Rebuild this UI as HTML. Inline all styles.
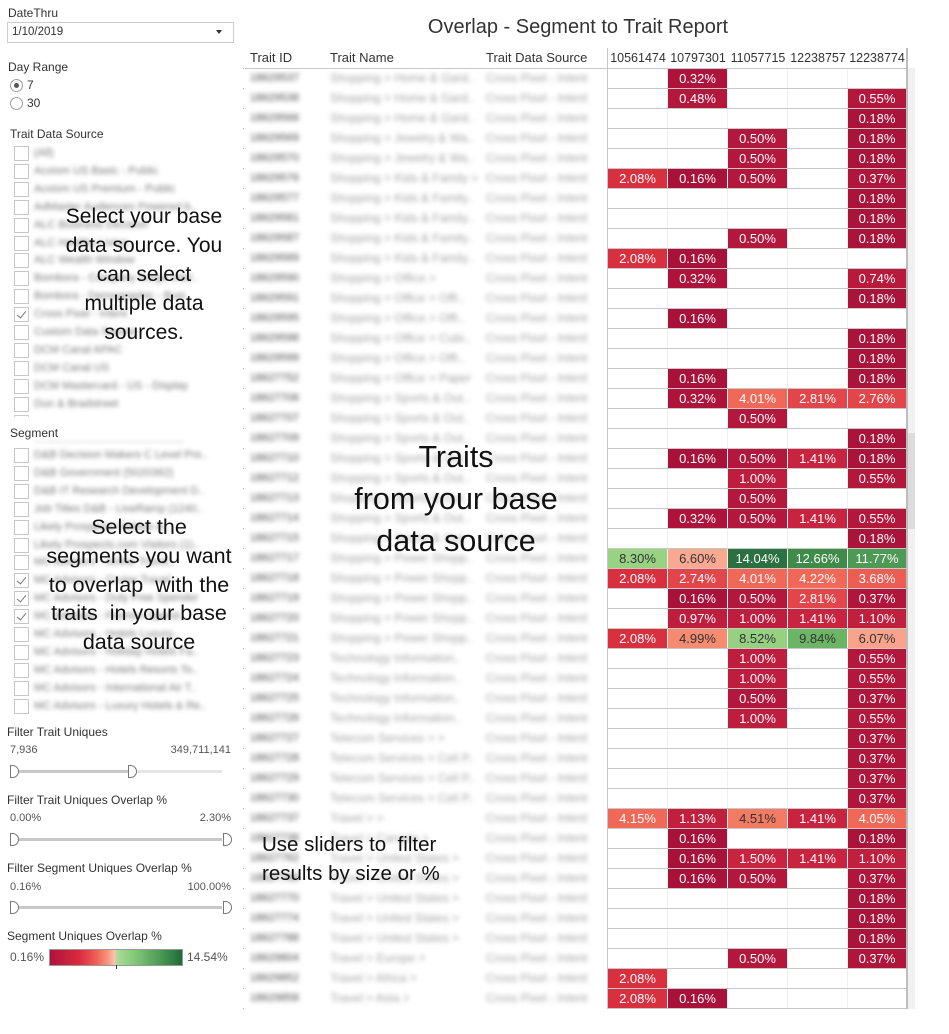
<!DOCTYPE html>
<html><head><meta charset="utf-8">
<style>
*{margin:0;padding:0;box-sizing:border-box}
body{width:949px;height:1034px;background:#fff;position:relative;overflow:hidden;font-family:"Liberation Sans",Arial,sans-serif;color:#333}
.a{position:absolute}
.lbl{position:absolute;font-size:12px;color:#333;white-space:nowrap;line-height:14px}
.cb{position:absolute;left:14px;width:15px;height:15px;border:1px solid #c6c6c6;background:#fff}
.cb.on::after{content:"";position:absolute;left:4px;top:1px;width:4px;height:8px;border:solid #777;border-width:0 1px 1px 0;transform:rotate(40deg)}
.bl{position:absolute;left:34px;font-size:11px;color:#7a7a7a;filter:blur(2.1px);white-space:nowrap;line-height:15px}
.rad{position:absolute;left:10px;width:13px;height:13px;border:1px solid #a0a0a0;border-radius:50%;background:#fff}
.rad.on::after{content:"";position:absolute;left:3px;top:3px;width:5px;height:5px;border-radius:50%;background:#555}
.trk{position:absolute;left:15px;width:207px;height:3px;background:#c8c8c8}
.hd{position:absolute;width:9px;height:13px;border:1px solid #777;border-radius:0 7px 7px 0;background:#fff}
.sv{position:absolute;font-size:11px;color:#555;line-height:13px;white-space:nowrap}
.ov{position:absolute;color:#111;text-align:center;white-space:pre}
.th{position:absolute;top:51px;font-size:13px;line-height:14px;color:#333;white-space:nowrap}
.nh{position:absolute;top:51px;width:60px;text-align:center;font-size:12.5px;line-height:14px;color:#333}
.blur{position:absolute;left:245px;top:69px;width:360px;height:940px;filter:blur(2.4px)}
.tr{position:absolute;left:0;width:360px;height:19px;line-height:19px;font-size:12px;white-space:nowrap}
.tr b{position:absolute;left:5px;font-weight:normal;color:#4a4a4a;font-size:11px}
.tr s{position:absolute;left:85px;text-decoration:none;color:#a4a4a4}
.tr u{position:absolute;left:241px;text-decoration:none;color:#a4a4a4}
.grid{position:absolute;left:608px;top:68px;width:298px;height:941px;
background:repeating-linear-gradient(to bottom,#c8c8c8 0 1px,transparent 1px 20px),
linear-gradient(to right,transparent 59px,#efefef 59px 60px,transparent 60px 119px,#efefef 119px 120px,transparent 120px 179px,#efefef 179px 180px,transparent 180px 239px,#efefef 239px 240px,transparent 240px)}
.nr{position:absolute;left:608px;width:299px;height:19px}
.nr i{position:absolute;top:0;width:59px;height:19px;line-height:19px;text-align:center;font-style:normal;font-size:13px;color:#fff}
.c0{left:0}.c1{left:60px}.c2{left:120px}.c3{left:180px}.c4{left:240px;width:58px!important}
.nr i.dk{color:#333}
.v16{background:#a8123a}.v18{background:#aa133a}.v32{background:#ae143b}.v37{background:#b0153b}
.v50{background:#b4173c}.v74{background:#b91a3c}.v100{background:#be1d3d}.v110{background:#c11f3e}
.v141{background:#c9243f}.v208{background:#d8303f}.v27{background:#e2454a}.v368{background:#ec5d53}
.v40{background:#f06858}.v451{background:#f37a63}.v499{background:#f68b70}.v607{background:#f9a38c}
.v660{background:#f9a891}.v830{background:#98d383}.v852{background:#95d181}.v984{background:#6db566}
.v1177{background:#4e9a55}.v1266{background:#3e8b4a}.v1404{background:#2a7040}
</style></head><body>

<!-- Left panel -->
<div class="lbl" style="left:8px;top:6px">DateThru</div>
<div class="a" style="left:7px;top:22px;width:227px;height:21px;border:1px solid #ccc;background:#fff"></div>
<div class="lbl" style="left:12px;top:25px;font-size:11.5px">1/10/2019</div>
<div class="a" style="left:216px;top:30px;width:0;height:0;border-left:3px solid transparent;border-right:3px solid transparent;border-top:4px solid #333"></div>

<div class="lbl" style="left:8px;top:60px">Day Range</div>
<div class="rad on" style="top:79px"></div>
<div class="lbl" style="left:27px;top:78px">7</div>
<div class="rad" style="top:97px"></div>
<div class="lbl" style="left:27px;top:96px">30</div>

<div class="lbl" style="left:10px;top:127px">Trait Data Source</div>
<div class="cb" style="top:146px"></div><div class="bl" style="top:146px">(All)</div>
<div class="cb" style="top:164px"></div><div class="bl" style="top:164px">Acxiom US Basic - Public</div>
<div class="cb" style="top:182px"></div><div class="bl" style="top:182px">Acxiom US Premium - Public</div>
<div class="cb" style="top:200px"></div><div class="bl" style="top:200px">AdMaster Audiences Powered b..</div>
<div class="cb" style="top:218px"></div><div class="bl" style="top:218px">ALC Business Decision</div>
<div class="cb" style="top:236px"></div><div class="bl" style="top:236px">ALC Healthy Living</div>
<div class="cb" style="top:253px"></div><div class="bl" style="top:253px">ALC Wealth Window</div>
<div class="cb" style="top:271px"></div><div class="bl" style="top:271px">Bombora - Company Surge Intel..</div>
<div class="cb" style="top:289px"></div><div class="bl" style="top:289px">Bombora - Demographic - Busi..</div>
<div class="cb on" style="top:307px"></div><div class="bl" style="top:307px">Cross Pixel - Intent</div>
<div class="cb" style="top:325px"></div><div class="bl" style="top:325px">Custom Data Source</div>
<div class="cb" style="top:343px"></div><div class="bl" style="top:343px">DCM Canal APAC</div>
<div class="cb" style="top:361px"></div><div class="bl" style="top:361px">DCM Canal US</div>
<div class="cb" style="top:379px"></div><div class="bl" style="top:379px">DCM Mastercard - US - Display</div>
<div class="cb" style="top:397px"></div><div class="bl" style="top:397px">Dun &amp; Bradstreet</div>
<div class="a" style="left:14px;top:415px;width:15px;height:2px;border:1px solid #ccc;border-bottom:none"></div>

<div class="lbl" style="left:10px;top:426px">Segment</div>
<div class="a" style="left:34px;top:441px;width:150px;height:2px;background:#ececec;filter:blur(1.5px)"></div>
<div class="cb" style="top:448px"></div><div class="bl" style="top:448px">D&amp;B Decision Makers C Level Pre..</div>
<div class="cb" style="top:466px"></div><div class="bl" style="top:466px">D&amp;B Government (5020382)</div>
<div class="cb" style="top:484px"></div><div class="bl" style="top:484px">D&amp;B IT Research Development D..</div>
<div class="cb" style="top:502px"></div><div class="bl" style="top:502px">Job Titles D&amp;B - LiveRamp (1240..</div>
<div class="cb" style="top:520px"></div><div class="bl" style="top:520px">Likely Prospects Visitors in..</div>
<div class="cb" style="top:538px"></div><div class="bl" style="top:538px">Likely Prospects.com Visitors (1)..</div>
<div class="cb" style="top:555px"></div><div class="bl" style="top:555px">MC Advisors - Airline Travel..</div>
<div class="cb on" style="top:573px"></div><div class="bl" style="top:573px">MC Advisors - Cruise Travel..</div>
<div class="cb on" style="top:591px"></div><div class="bl" style="top:591px">MC Advisors - Duty Free Spender</div>
<div class="cb on" style="top:609px"></div><div class="bl" style="top:609px">MC Advisors - Fashion Spend..</div>
<div class="cb" style="top:627px"></div><div class="bl" style="top:627px">MC Advisors - Hotels Luxury..</div>
<div class="cb" style="top:645px"></div><div class="bl" style="top:645px">MC Advisors - Holiday Hotels Fa..</div>
<div class="cb" style="top:663px"></div><div class="bl" style="top:663px">MC Advisors - Hotels Resorts To..</div>
<div class="cb" style="top:681px"></div><div class="bl" style="top:681px">MC Advisors - International Air T..</div>
<div class="cb" style="top:699px"></div><div class="bl" style="top:699px">MC Advisors - Luxury Hotels &amp; Re..</div>

<!-- Sliders -->
<div class="lbl" style="left:7px;top:725px">Filter Trait Uniques</div>
<div class="sv" style="left:10px;top:744px">7,936</div>
<div class="sv" style="left:130px;top:744px;width:101px;text-align:right">349,711,141</div>
<div class="trk" style="top:770px"></div>
<div class="a" style="left:132px;top:770px;width:90px;height:3px;background:#e6e6e6"></div>
<div class="hd" style="left:10px;top:765px"></div>
<div class="hd" style="left:128px;top:765px"></div>

<div class="lbl" style="left:7px;top:793px">Filter Trait Uniques Overlap %</div>
<div class="sv" style="left:10px;top:812px">0.00%</div>
<div class="sv" style="left:130px;top:812px;width:101px;text-align:right">2.30%</div>
<div class="trk" style="top:838px"></div>
<div class="hd" style="left:10px;top:833px"></div>
<div class="hd" style="left:223px;top:833px"></div>

<div class="lbl" style="left:7px;top:861px">Filter Segment Uniques Overlap %</div>
<div class="sv" style="left:10px;top:881px">0.16%</div>
<div class="sv" style="left:130px;top:881px;width:101px;text-align:right">100.00%</div>
<div class="trk" style="top:906px"></div>
<div class="hd" style="left:10px;top:901px"></div>
<div class="hd" style="left:223px;top:901px"></div>

<div class="lbl" style="left:7px;top:929px">Segment Uniques Overlap %</div>
<div class="lbl" style="left:10px;top:950px;color:#555">0.16%</div>
<div class="a" style="left:49px;top:949px;width:134px;height:17px;border:1px solid #999;background:linear-gradient(to right,#b0123b 0%,#d92a3f 22%,#ee5f55 35%,#f7987f 44%,#fac4b0 49%,#a9dc97 51%,#80c677 65%,#479653 85%,#1f6a3a 100%)"></div>
<div class="a" style="left:116px;top:965px;width:1px;height:4px;background:#333"></div>
<div class="lbl" style="left:187px;top:950px;color:#555">14.54%</div>

<!-- Title & headers -->
<div class="a" style="left:378px;top:15px;width:400px;text-align:center;font-size:20px;line-height:24px;color:#333">Overlap - Segment to Trait Report</div>
<div class="th" style="left:250px">Trait ID</div>
<div class="th" style="left:330px">Trait Name</div>
<div class="th" style="left:486px">Trait Data Source</div>
<div class="nh" style="left:608px">10561474</div>
<div class="nh" style="left:668px">10797301</div>
<div class="nh" style="left:728px">11057715</div>
<div class="nh" style="left:788px">12238757</div>
<div class="nh" style="left:847px">12238774</div>
<div class="a" style="left:245px;top:68px;width:362px;height:1px;background:#c8c8c8"></div>
<div class="a" style="left:243px;top:68px;width:1px;height:941px;background:repeating-linear-gradient(to bottom,#b0b0b0 0 1px,transparent 1px 20px)"></div>

<!-- blurred trait rows -->
<div class="blur">
<div class="tr" style="top:0px"><b>18629537</b><s>Shopping &gt; Home &amp; Gard..</s><u>Cross Pixel - Intent</u></div>
<div class="tr" style="top:20px"><b>18629538</b><s>Shopping &gt; Home &amp; Gard..</s><u>Cross Pixel - Intent</u></div>
<div class="tr" style="top:40px"><b>18629566</b><s>Shopping &gt; Home &amp; Gard..</s><u>Cross Pixel - Intent</u></div>
<div class="tr" style="top:60px"><b>18629569</b><s>Shopping &gt; Jewelry &amp; Wa..</s><u>Cross Pixel - Intent</u></div>
<div class="tr" style="top:80px"><b>18629570</b><s>Shopping &gt; Jewelry &amp; Wa..</s><u>Cross Pixel - Intent</u></div>
<div class="tr" style="top:100px"><b>18629576</b><s>Shopping &gt; Kids &amp; Family &gt;</s><u>Cross Pixel - Intent</u></div>
<div class="tr" style="top:120px"><b>18629577</b><s>Shopping &gt; Kids &amp; Family..</s><u>Cross Pixel - Intent</u></div>
<div class="tr" style="top:140px"><b>18629581</b><s>Shopping &gt; Kids &amp; Family..</s><u>Cross Pixel - Intent</u></div>
<div class="tr" style="top:160px"><b>18629587</b><s>Shopping &gt; Kids &amp; Family..</s><u>Cross Pixel - Intent</u></div>
<div class="tr" style="top:180px"><b>18629589</b><s>Shopping &gt; Kids &amp; Family..</s><u>Cross Pixel - Intent</u></div>
<div class="tr" style="top:200px"><b>18629590</b><s>Shopping &gt; Office &gt;</s><u>Cross Pixel - Intent</u></div>
<div class="tr" style="top:220px"><b>18629591</b><s>Shopping &gt; Office &gt; Offi..</s><u>Cross Pixel - Intent</u></div>
<div class="tr" style="top:240px"><b>18629595</b><s>Shopping &gt; Office &gt; Offi..</s><u>Cross Pixel - Intent</u></div>
<div class="tr" style="top:260px"><b>18629598</b><s>Shopping &gt; Office &gt; Cubi..</s><u>Cross Pixel - Intent</u></div>
<div class="tr" style="top:280px"><b>18629599</b><s>Shopping &gt; Office &gt; Offi..</s><u>Cross Pixel - Intent</u></div>
<div class="tr" style="top:300px"><b>18627752</b><s>Shopping &gt; Office &gt; Paper</s><u>Cross Pixel - Intent</u></div>
<div class="tr" style="top:320px"><b>18627706</b><s>Shopping &gt; Sports &amp; Out..</s><u>Cross Pixel - Intent</u></div>
<div class="tr" style="top:340px"><b>18627707</b><s>Shopping &gt; Sports &amp; Out..</s><u>Cross Pixel - Intent</u></div>
<div class="tr" style="top:360px"><b>18627709</b><s>Shopping &gt; Sports &amp; Out..</s><u>Cross Pixel - Intent</u></div>
<div class="tr" style="top:380px"><b>18627710</b><s>Shopping &gt; Sports &amp; Out..</s><u>Cross Pixel - Intent</u></div>
<div class="tr" style="top:400px"><b>18627712</b><s>Shopping &gt; Sports &amp; Out..</s><u>Cross Pixel - Intent</u></div>
<div class="tr" style="top:420px"><b>18627713</b><s>Shopping &gt; Sports &amp; Out..</s><u>Cross Pixel - Intent</u></div>
<div class="tr" style="top:440px"><b>18627714</b><s>Shopping &gt; Sports &amp; Out..</s><u>Cross Pixel - Intent</u></div>
<div class="tr" style="top:460px"><b>18627715</b><s>Shopping &gt; Sports &amp; Out..</s><u>Cross Pixel - Intent</u></div>
<div class="tr" style="top:480px"><b>18627717</b><s>Shopping &gt; Power Shopp..</s><u>Cross Pixel - Intent</u></div>
<div class="tr" style="top:500px"><b>18627718</b><s>Shopping &gt; Power Shopp..</s><u>Cross Pixel - Intent</u></div>
<div class="tr" style="top:520px"><b>18627719</b><s>Shopping &gt; Power Shopp..</s><u>Cross Pixel - Intent</u></div>
<div class="tr" style="top:540px"><b>18627720</b><s>Shopping &gt; Power Shopp..</s><u>Cross Pixel - Intent</u></div>
<div class="tr" style="top:560px"><b>18627721</b><s>Shopping &gt; Power Shopp..</s><u>Cross Pixel - Intent</u></div>
<div class="tr" style="top:580px"><b>18627723</b><s>Technology Information..</s><u>Cross Pixel - Intent</u></div>
<div class="tr" style="top:600px"><b>18627724</b><s>Technology Information..</s><u>Cross Pixel - Intent</u></div>
<div class="tr" style="top:620px"><b>18627725</b><s>Technology Information..</s><u>Cross Pixel - Intent</u></div>
<div class="tr" style="top:640px"><b>18627726</b><s>Technology Information..</s><u>Cross Pixel - Intent</u></div>
<div class="tr" style="top:660px"><b>18627727</b><s>Telecom Services &gt; &gt;</s><u>Cross Pixel - Intent</u></div>
<div class="tr" style="top:680px"><b>18627728</b><s>Telecom Services &gt; Cell P..</s><u>Cross Pixel - Intent</u></div>
<div class="tr" style="top:700px"><b>18627729</b><s>Telecom Services &gt; Cell P..</s><u>Cross Pixel - Intent</u></div>
<div class="tr" style="top:720px"><b>18627730</b><s>Telecom Services &gt; Cell P..</s><u>Cross Pixel - Intent</u></div>
<div class="tr" style="top:740px"><b>18627737</b><s>Travel &gt; &gt;</s><u>Cross Pixel - Intent</u></div>
<div class="tr" style="top:760px"><b>18627738</b><s>Travel &gt; Canada &gt;</s><u>Cross Pixel - Intent</u></div>
<div class="tr" style="top:780px"><b>18627762</b><s>Travel &gt; United States &gt;</s><u>Cross Pixel - Intent</u></div>
<div class="tr" style="top:800px"><b>18627766</b><s>Travel &gt; United States &gt;</s><u>Cross Pixel - Intent</u></div>
<div class="tr" style="top:820px"><b>18627770</b><s>Travel &gt; United States &gt;</s><u>Cross Pixel - Intent</u></div>
<div class="tr" style="top:840px"><b>18627774</b><s>Travel &gt; United States &gt;</s><u>Cross Pixel - Intent</u></div>
<div class="tr" style="top:860px"><b>18627788</b><s>Travel &gt; United States &gt;</s><u>Cross Pixel - Intent</u></div>
<div class="tr" style="top:880px"><b>18629804</b><s>Travel &gt; Europe &gt;</s><u>Cross Pixel - Intent</u></div>
<div class="tr" style="top:900px"><b>18629852</b><s>Travel &gt; Africa &gt;</s><u>Cross Pixel - Intent</u></div>
<div class="tr" style="top:920px"><b>18629858</b><s>Travel &gt; Asia &gt;</s><u>Cross Pixel - Intent</u></div>
</div>

<!-- numeric grid -->
<div class="grid"></div>
<div class="a" style="left:607px;top:48px;width:1px;height:961px;background:#c8c8c8"></div>
<div class="a" style="left:906px;top:48px;width:2px;height:961px;background:#bdbdbd"></div>
<div class="a" style="left:908px;top:68px;width:7px;height:941px;background:#f1f1f1"></div>
<div class="a" style="left:908px;top:433px;width:7px;height:96px;background:#dcdcdc"></div>

<div class="nr" style="top:69px"><i class="c1 v32">0.32%</i></div>
<div class="nr" style="top:89px"><i class="c1 v50">0.48%</i><i class="c4 v50">0.55%</i></div>
<div class="nr" style="top:109px"><i class="c4 v18">0.18%</i></div>
<div class="nr" style="top:129px"><i class="c2 v50">0.50%</i><i class="c4 v18">0.18%</i></div>
<div class="nr" style="top:149px"><i class="c2 v50">0.50%</i><i class="c4 v18">0.18%</i></div>
<div class="nr" style="top:169px"><i class="c0 v208">2.08%</i><i class="c1 v16">0.16%</i><i class="c2 v50">0.50%</i><i class="c4 v37">0.37%</i></div>
<div class="nr" style="top:189px"><i class="c4 v18">0.18%</i></div>
<div class="nr" style="top:209px"><i class="c4 v18">0.18%</i></div>
<div class="nr" style="top:229px"><i class="c2 v50">0.50%</i><i class="c4 v18">0.18%</i></div>
<div class="nr" style="top:249px"><i class="c0 v208">2.08%</i><i class="c1 v16">0.16%</i></div>
<div class="nr" style="top:269px"><i class="c1 v32">0.32%</i><i class="c4 v74">0.74%</i></div>
<div class="nr" style="top:289px"><i class="c4 v18">0.18%</i></div>
<div class="nr" style="top:309px"><i class="c1 v16">0.16%</i></div>
<div class="nr" style="top:329px"><i class="c4 v18">0.18%</i></div>
<div class="nr" style="top:349px"><i class="c4 v18">0.18%</i></div>
<div class="nr" style="top:369px"><i class="c1 v16">0.16%</i><i class="c4 v18">0.18%</i></div>
<div class="nr" style="top:389px"><i class="c1 v32">0.32%</i><i class="c2 v40">4.01%</i><i class="c3 v27">2.81%</i><i class="c4 v27">2.76%</i></div>
<div class="nr" style="top:409px"><i class="c2 v50">0.50%</i></div>
<div class="nr" style="top:429px"><i class="c4 v18">0.18%</i></div>
<div class="nr" style="top:449px"><i class="c1 v16">0.16%</i><i class="c2 v50">0.50%</i><i class="c3 v141">1.41%</i><i class="c4 v18">0.18%</i></div>
<div class="nr" style="top:469px"><i class="c2 v100">1.00%</i><i class="c4 v50">0.55%</i></div>
<div class="nr" style="top:489px"><i class="c2 v50">0.50%</i></div>
<div class="nr" style="top:509px"><i class="c1 v32">0.32%</i><i class="c2 v50">0.50%</i><i class="c3 v141">1.41%</i><i class="c4 v50">0.55%</i></div>
<div class="nr" style="top:529px"><i class="c4 v18">0.18%</i></div>
<div class="nr" style="top:549px"><i class="c0 v830 dk">8.30%</i><i class="c1 v660 dk">6.60%</i><i class="c2 v1404">14.04%</i><i class="c3 v1266">12.66%</i><i class="c4 v1177">11.77%</i></div>
<div class="nr" style="top:569px"><i class="c0 v208">2.08%</i><i class="c1 v27">2.74%</i><i class="c2 v40">4.01%</i><i class="c3 v40">4.22%</i><i class="c4 v368">3.68%</i></div>
<div class="nr" style="top:589px"><i class="c1 v16">0.16%</i><i class="c2 v50">0.50%</i><i class="c3 v27">2.81%</i><i class="c4 v37">0.37%</i></div>
<div class="nr" style="top:609px"><i class="c1 v100">0.97%</i><i class="c2 v100">1.00%</i><i class="c3 v141">1.41%</i><i class="c4 v110">1.10%</i></div>
<div class="nr" style="top:629px"><i class="c0 v208">2.08%</i><i class="c1 v499 dk">4.99%</i><i class="c2 v852 dk">8.52%</i><i class="c3 v984 dk">9.84%</i><i class="c4 v607 dk">6.07%</i></div>
<div class="nr" style="top:649px"><i class="c2 v100">1.00%</i><i class="c4 v50">0.55%</i></div>
<div class="nr" style="top:669px"><i class="c2 v100">1.00%</i><i class="c4 v50">0.55%</i></div>
<div class="nr" style="top:689px"><i class="c2 v50">0.50%</i><i class="c4 v37">0.37%</i></div>
<div class="nr" style="top:709px"><i class="c2 v100">1.00%</i><i class="c4 v50">0.55%</i></div>
<div class="nr" style="top:729px"><i class="c4 v37">0.37%</i></div>
<div class="nr" style="top:749px"><i class="c4 v37">0.37%</i></div>
<div class="nr" style="top:769px"><i class="c4 v37">0.37%</i></div>
<div class="nr" style="top:789px"><i class="c4 v37">0.37%</i></div>
<div class="nr" style="top:809px"><i class="c0 v40">4.15%</i><i class="c1 v110">1.13%</i><i class="c2 v451 dk">4.51%</i><i class="c3 v141">1.41%</i><i class="c4 v40">4.05%</i></div>
<div class="nr" style="top:829px"><i class="c1 v16">0.16%</i><i class="c4 v18">0.18%</i></div>
<div class="nr" style="top:849px"><i class="c1 v16">0.16%</i><i class="c2 v141">1.50%</i><i class="c3 v141">1.41%</i><i class="c4 v110">1.10%</i></div>
<div class="nr" style="top:869px"><i class="c1 v16">0.16%</i><i class="c2 v50">0.50%</i><i class="c4 v37">0.37%</i></div>
<div class="nr" style="top:889px"><i class="c4 v18">0.18%</i></div>
<div class="nr" style="top:909px"><i class="c4 v18">0.18%</i></div>
<div class="nr" style="top:929px"><i class="c4 v18">0.18%</i></div>
<div class="nr" style="top:949px"><i class="c2 v50">0.50%</i><i class="c4 v37">0.37%</i></div>
<div class="nr" style="top:969px"><i class="c0 v208">2.08%</i></div>
<div class="nr" style="top:989px"><i class="c0 v208">2.08%</i><i class="c1 v16">0.16%</i></div>

<!-- overlay annotations -->
<div class="ov" style="left:44px;top:202px;width:200px;font-size:21px;line-height:29px">Select your base
data source. You
can select
multiple data
sources.</div>
<div class="ov" style="left:19px;top:513px;width:240px;font-size:21.5px;line-height:28.75px">Select the
segments you want
to overlap  with the
traits  in your base
data source</div>
<div class="ov" style="left:306px;top:436px;width:300px;font-size:30.5px;line-height:42px">Traits
from your base
data source</div>
<div class="ov" style="left:262px;top:830px;text-align:left;font-size:20.5px;line-height:29px">Use sliders to  filter
results by size or %</div>

</body></html>
